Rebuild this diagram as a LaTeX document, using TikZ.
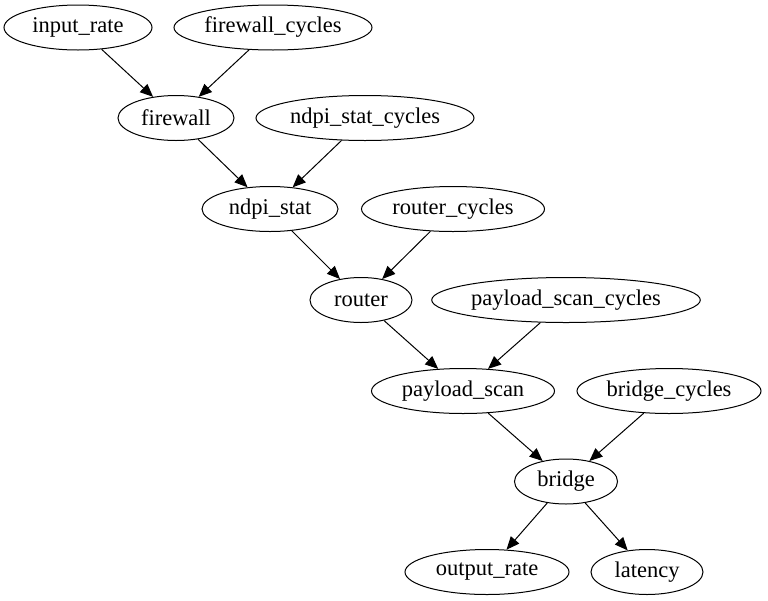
\documentclass[tikz,border=0pt]{standalone}
\usepackage{fontspec}
\setmainfont{Liberation Serif}
\usetikzlibrary{shapes.geometric,arrows.meta}
\begin{document}
\begin{tikzpicture}[x=1pt,y=-1pt,
  gnode/.style={draw,ellipse,line width=1pt,inner sep=0pt,minimum height=45pt,font=\fontsize{22.5}{24}\selectfont},
  arr/.style={draw,line width=1pt,-{Triangle[length=13pt,width=11pt]}}]
\useasboundingbox (0,0) rectangle (768,600);
\node[gnode,minimum width=148pt] (input_rate) at (78,27.5) {input\_rate};
\node[gnode,minimum width=198pt] (firewall_cycles) at (273,27.5) {firewall\_cycles};
\node[gnode,minimum width=116pt] (firewall) at (176,118) {firewall};
\node[gnode,minimum width=218pt] (ndpi_stat_cycles) at (365,118) {ndpi\_stat\_cycles};
\node[gnode,minimum width=136pt] (ndpi_stat) at (270,209) {ndpi\_stat};
\node[gnode,minimum width=183pt] (router_cycles) at (453,209) {router\_cycles};
\node[gnode,minimum width=102pt] (router) at (361,300) {router};
\node[gnode,minimum width=265pt] (payload_scan_cycles) at (566,300) {payload\_scan\_cycles};
\node[gnode,minimum width=183pt] (payload_scan) at (463,391) {payload\_scan};
\node[gnode,minimum width=184pt] (bridge_cycles) at (669,391) {bridge\_cycles};
\node[gnode,minimum width=103pt] (bridge) at (566,481.5) {bridge};
\node[gnode,minimum width=164pt] (output_rate) at (487,572) {output\_rate};
\node[gnode,minimum width=112pt] (latency) at (647,572) {latency};
\draw[arr] (input_rate) -- (firewall);
\draw[arr] (firewall_cycles) -- (firewall);
\draw[arr] (firewall) -- (ndpi_stat);
\draw[arr] (ndpi_stat_cycles) -- (ndpi_stat);
\draw[arr] (ndpi_stat) -- (router);
\draw[arr] (router_cycles) -- (router);
\draw[arr] (router) -- (payload_scan);
\draw[arr] (payload_scan_cycles) -- (payload_scan);
\draw[arr] (payload_scan) -- (bridge);
\draw[arr] (bridge_cycles) -- (bridge);
\draw[arr] (bridge) -- (output_rate);
\draw[arr] (bridge) -- (latency);
\end{tikzpicture}
\end{document}
